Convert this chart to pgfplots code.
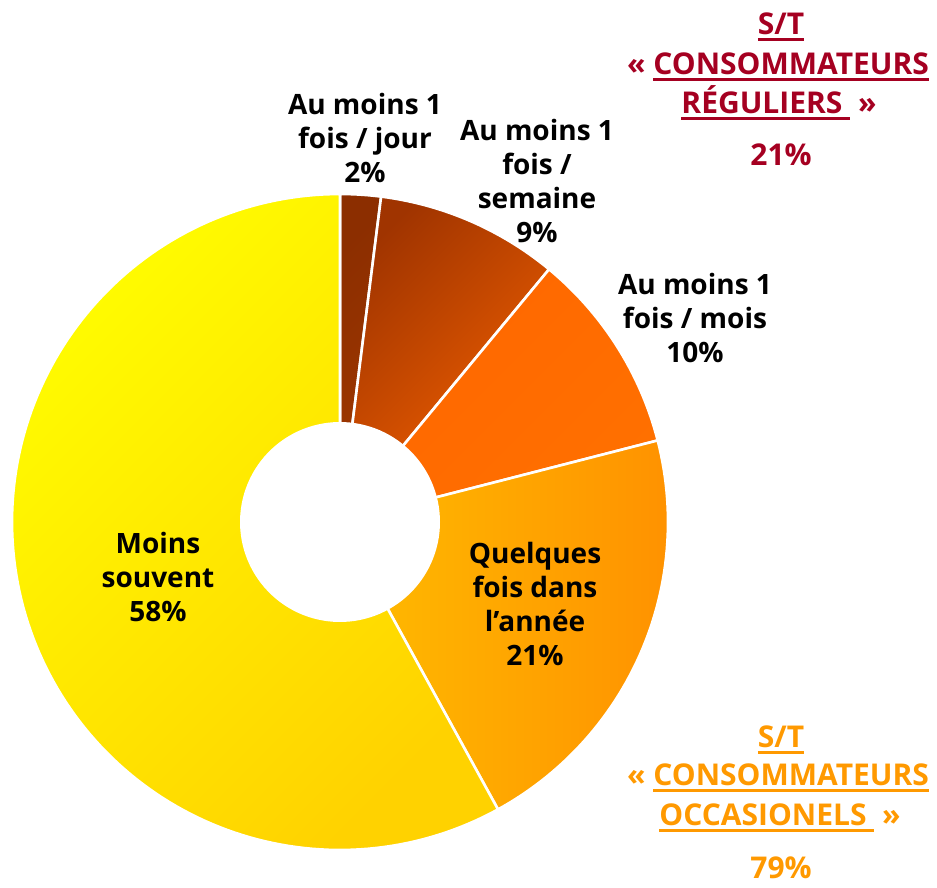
\documentclass[border=0pt]{standalone}
\usepackage{pgfplots}
\pgfplotsset{compat=1.18}
\usepackage{fontspec}
\setmainfont{Open Sans}
\definecolor{regul}{HTML}{A50021}
\definecolor{occas}{HTML}{FF9900}
\newcommand{\uline}[1]{\setbox0\hbox{#1}\rlap{\raisebox{-6pt}{\rule{\wd0}{2.6pt}}}\box0}
% shares (percent), clockwise from the top
\def\pA{2}\def\pB{9}\def\pC{10}\def\pD{21}\def\pE{58}
\pgfmathsetmacro\aA{90}
\pgfmathsetmacro\aB{90-3.6*\pA}
\pgfmathsetmacro\aC{\aB-3.6*\pB}
\pgfmathsetmacro\aD{\aC-3.6*\pC}
\pgfmathsetmacro\aE{\aD-3.6*\pD}
\pgfmathsetmacro\aF{\aE-3.6*\pE}
\def\cx{340}\def\cy{365}\def\R{328}\def\r{100}
\begin{document}
\begin{tikzpicture}
\begin{axis}[at={(0,0)},anchor=south west,scale only axis,width=937pt,height=887pt,
  xmin=0,xmax=937,ymin=0,ymax=887,hide axis,clip=false]
\addplot[top color={rgb,255:red,140;green,46;blue,0},bottom color={rgb,255:red,160;green,56;blue,0},shading angle=45,
  draw=white,line width=2.6pt,domain=\aB:\aA,samples=10,variable=\t]
  ({\cx+\R*cos(\t)},{\cy+\R*sin(\t)}) -- (axis cs:\cx,\cy) -- cycle;
\addplot[top color={rgb,255:red,160;green,52;blue,0},bottom color={rgb,255:red,245;green,98;blue,0},shading angle=45,
  draw=white,line width=2.6pt,domain=\aC:\aB,samples=30,variable=\t]
  ({\cx+\R*cos(\t)},{\cy+\R*sin(\t)}) -- (axis cs:\cx,\cy) -- cycle;
\addplot[top color={rgb,255:red,255;green,102;blue,0},bottom color={rgb,255:red,255;green,112;blue,0},shading angle=45,
  draw=white,line width=2.6pt,domain=\aD:\aC,samples=30,variable=\t]
  ({\cx+\R*cos(\t)},{\cy+\R*sin(\t)}) -- (axis cs:\cx,\cy) -- cycle;
\addplot[left color={rgb,255:red,255;green,188;blue,0},right color={rgb,255:red,255;green,146;blue,0},
  draw=white,line width=2.6pt,domain=\aE:\aD,samples=60,variable=\t]
  ({\cx+\R*cos(\t)},{\cy+\R*sin(\t)}) -- (axis cs:\cx,\cy) -- cycle;
\addplot[top color={rgb,255:red,255;green,252;blue,0},bottom color={rgb,255:red,255;green,210;blue,0},shading angle=45,
  draw=white,line width=2.6pt,domain=\aF:\aE,samples=150,variable=\t]
  ({\cx+\R*cos(\t)},{\cy+\R*sin(\t)}) -- (axis cs:\cx,\cy) -- cycle;
\addplot[fill=white,draw=none,domain=0:360,samples=120,variable=\t]
  ({\cx+\r*cos(\t)},{\cy+\r*sin(\t)}) -- cycle;
% slice labels
\begin{scope}[every node/.style={align=center,font=\fontsize{28}{34}\selectfont\bfseries}]
\node at (axis cs:365,749) {Au moins 1\\fois / jour\\2\%};
\node at (axis cs:537,706) {Au moins 1\\fois /\\semaine\\9\%};
\node at (axis cs:695,569) {Au moins 1\\fois / mois\\10\%};
\node at (axis cs:535,283) {Quelques\\fois dans\\l’année\\21\%};
\node at (axis cs:158,310) {Moins\\souvent\\58\%};
\end{scope}
\begin{scope}[every node/.style={font=\fontsize{30}{36}\selectfont\bfseries}]
\node[text=regul] at (axis cs:781,860) {\uline{S/T}};
\node[text=regul] at (axis cs:778,820) {«~\uline{CONSOMMATEURS}};
\node[text=regul] at (axis cs:779,784) {\uline{RÉGULIERS~}~»};
\node[text=regul] at (axis cs:781,732) {21\%};
\node[text=occas] at (axis cs:781,147) {\uline{S/T}};
\node[text=occas] at (axis cs:778,109) {«~\uline{CONSOMMATEURS}};
\node[text=occas] at (axis cs:780,69) {\uline{OCCASIONELS~}~»};
\node[text=occas] at (axis cs:781,19) {79\%};
\end{scope}
\end{axis}
\pgfresetboundingbox
\path[use as bounding box] (0,0) rectangle (937pt,887pt);
\end{tikzpicture}
\end{document}
